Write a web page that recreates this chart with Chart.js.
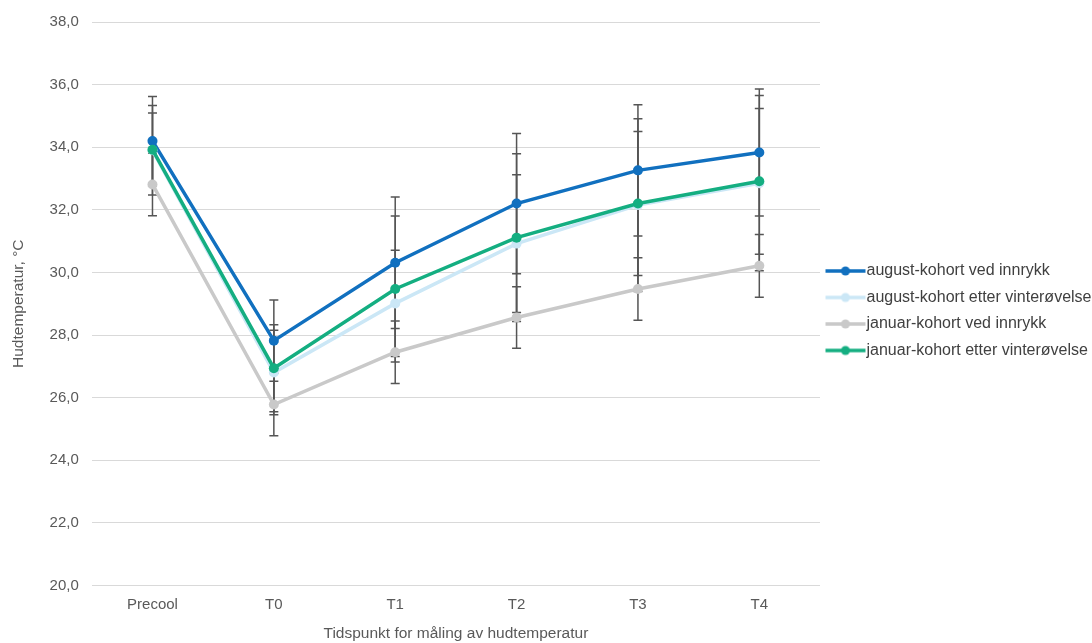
<!DOCTYPE html>
<html>
<head>
<meta charset="utf-8">
<script src="https://cdn.jsdelivr.net/npm/chart.js@4/dist/chart.umd.min.js"></script>
<style>
  body { margin: 0; background: #fff; }
  #wrap { width: 1092px; height: 643px; }
</style>
</head>
<body>
<div id="wrap"><canvas id="hudChart"></canvas></div>
<script>
const categories = ["Precool", "T0", "T1", "T2", "T3", "T4"];

const augVed = [34.2, 27.82, 30.31, 32.2, 33.26, 33.83];
const augVedSd = [1.42, 1.3, 2.1, 2.24, 2.1, 2.03];
const augEtter = [33.9, 26.8, 29.01, 30.92, 32.15, 32.85];
const augEtterSd = [1.43, 1.35, 1.7, 2.2, 2.76, 2.8];
const janVed = [32.81, 25.78, 27.45, 28.56, 29.47, 30.21];
const janVedSd = [1.0, 1.0, 1.0, 0.98, 1.0, 1.0];
const janEtter = [33.92, 26.94, 29.47, 31.11, 32.2, 32.91];
const janEtterSd = [1.17, 1.39, 2.33, 2.68, 2.3, 2.33];

const seriesNames = [
  "august-kohort ved innrykk",
  "august-kohort etter vinterøvelse",
  "januar-kohort ved innrykk",
  "januar-kohort etter vinterøvelse",
];
const colors = ["#1170BF", "#CBE7F6", "#C9C9C9", "#14AE81"];
const FONT = "Liberation Sans";

// legend marker: line with a dot, like the Excel legend
function legendMarker(color) {
  const c = document.createElement("canvas");
  c.width = 44;
  c.height = 12;
  const g = c.getContext("2d");
  g.strokeStyle = color;
  g.lineWidth = 3.5;
  g.beginPath();
  g.moveTo(3, 6);
  g.lineTo(43, 6);
  g.stroke();
  g.fillStyle = color;
  g.beginPath();
  g.arc(23, 6, 4.5, 0, Math.PI * 2);
  g.fill();
  return c;
}

const errorBars = {
  id: "errorBars",
  beforeDatasetsDraw(chart) {
    const { ctx, scales } = chart;
    ctx.save();
    ctx.strokeStyle = "#555555";
    ctx.lineWidth = 1.5;
    chart.data.datasets.forEach((ds) => {
      ds.data.forEach((v, i) => {
        const x = scales.x.getPixelForValue(i);
        const top = scales.y.getPixelForValue(v + ds.sd[i]);
        const bot = scales.y.getPixelForValue(v - ds.sd[i]);
        ctx.beginPath();
        ctx.moveTo(x, top);
        ctx.lineTo(x, bot);
        ctx.moveTo(x - 4.5, top);
        ctx.lineTo(x + 4.5, top);
        ctx.moveTo(x - 4.5, bot);
        ctx.lineTo(x + 4.5, bot);
        ctx.stroke();
      });
    });
    ctx.restore();
  },
};

const values = [augVed, augEtter, janVed, janEtter];
const sds = [augVedSd, augEtterSd, janVedSd, janEtterSd];

const ctx = document.getElementById("hudChart");
new Chart(ctx, {
  type: "line",
  data: {
    labels: categories,
    datasets: values.map((d, k) => ({
      label: seriesNames[k],
      data: d,
      sd: sds[k],
      borderColor: colors[k],
      backgroundColor: colors[k],
      borderWidth: 3.5,
      pointRadius: 5,
      pointBorderWidth: 0,
      pointHoverRadius: 5,
      tension: 0,
      order: 4 - k,
    })),
  },
  options: {
    responsive: true,
    maintainAspectRatio: false,
    animation: false,
    layout: { padding: { top: 11, left: 5, right: 0, bottom: 0 } },
    plugins: {
      tooltip: { enabled: false },
      legend: {
        position: "right",
        fullSize: false,
        maxWidth: 272,
        title: { display: true, text: "", font: { size: 10 }, padding: 1 },
        labels: {
          usePointStyle: true,
          pointStyleWidth: 28,
          padding: 10.5,
          color: "#404040",
          font: { family: FONT, size: 16 },
          sort: (a, b) => a.datasetIndex - b.datasetIndex,
          generateLabels(chart) {
            const items = Chart.defaults.plugins.legend.labels.generateLabels(chart);
            return items.map((it) => {
              it.pointStyle = legendMarker(colors[it.datasetIndex]);
              return it;
            });
          },
        },
      },
    },
    scales: {
      x: {
        offset: true,
        grid: { display: false },
        border: { display: false },
        ticks: { color: "#595959", font: { family: FONT, size: 15 }, padding: 2 },
        title: {
          display: true,
          text: "Tidspunkt for måling av hudtemperatur",
          color: "#595959",
          font: { family: FONT, size: 15.5 },
          padding: { top: 9, bottom: 0 },
        },
      },
      y: {
        min: 20,
        max: 38,
        grid: { color: "#D9D9D9", lineWidth: 1, drawTicks: false },
        border: { display: false },
        ticks: {
          stepSize: 2,
          color: "#595959",
          font: { family: FONT, size: 15 },
          padding: 13,
          callback: (v) => v.toFixed(1).replace(".", ","),
        },
        title: {
          display: true,
          text: "Hudtemperatur, °C",
          color: "#595959",
          font: { family: FONT, size: 15.5 },
          padding: { top: 4, bottom: 9 },
        },
      },
    },
  },
  plugins: [errorBars],
});
</script>
</body>
</html>
